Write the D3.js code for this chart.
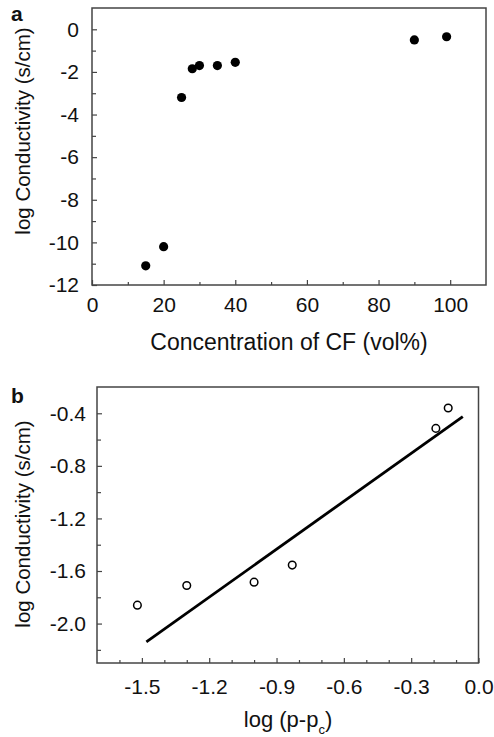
<!DOCTYPE html>
<html>
<head>
<meta charset="utf-8">
<script src="https://cdn.jsdelivr.net/npm/d3@7"></script>
<style>
  body { margin: 0; background: #fff; }
  svg text { font-family: "Liberation Sans", Arial, sans-serif; fill: #111; }
  svg .tick text { font-size: 21px !important; }
</style>
</head>
<body>
<svg id="screen" width="494" height="737"></svg>
<script>
// Panel a data: concentration of CF vs log conductivity
var concA = [15, 20, 25, 28, 30, 35, 40, 90, 99];
var logCondA = [-11.1, -10.2, -3.2, -1.85, -1.7, -1.7, -1.55, -0.5, -0.35];
var xTicksA = [0, 20, 40, 60, 80, 100];
var xMinorA = [10, 30, 50, 70, 90];
var yTicksA = [0, -2, -4, -6, -8, -10, -12];
var yMinorA = [-1, -3, -5, -7, -9, -11];

// Panel b data: log(p-pc) vs log conductivity, plus fitted line
var logPB = [-1.52, -1.3, -1.0, -0.83, -0.19, -0.135];
var logCondB = [-1.86, -1.71, -1.685, -1.555, -0.515, -0.36];
var fitX = [-1.48, -0.07];
var fitY = [-2.14, -0.425];
var xTicksB = [-1.5, -1.2, -0.9, -0.6, -0.3, 0.0];
var xMinorB = [-1.6, -1.4, -1.3, -1.1, -1.0, -0.8, -0.7, -0.5, -0.4, -0.2, -0.1];
var yTicksB = [-0.4, -0.8, -1.2, -1.6, -2.0];
var yMinorB = [-0.6, -1.0, -1.4, -1.8, -2.2];

var svg = d3.select("#screen");
var frameColor = "#444";

// plain hyphen instead of unicode minus
function fmt(p) {
    var f = d3.format(p);
    return function(d){ return f(d).replace("\u2212", "-"); };
}

function panel(o) {
    var g = svg.append("g");
    var x = d3.scaleLinear().domain(o.xDomain).range([o.left, o.right]);
    var y = d3.scaleLinear().domain(o.yDomain).range([o.bottom, o.top]);

    // minor ticks
    g.append("g").attr("transform", "translate(0," + o.bottom + ")")
        .call(d3.axisBottom(x).tickValues(o.xMinor).tickSize(-3).tickFormat(""))
        .call(function(a){ a.select(".domain").remove(); });
    g.append("g").attr("transform", "translate(" + o.left + ",0)")
        .call(d3.axisLeft(y).tickValues(o.yMinor).tickSize(-4).tickFormat(""))
        .call(function(a){ a.select(".domain").remove(); });

    // major ticks with labels
    var xa = g.append("g").attr("transform", "translate(0," + o.bottom + ")")
        .call(d3.axisBottom(x).tickValues(o.xTicks).tickSize(-5).tickPadding(o.xPad).tickFormat(o.xFmt));
    var ya = g.append("g").attr("transform", "translate(" + o.left + ",0)")
        .call(d3.axisLeft(y).tickValues(o.yTicks).tickSize(-5).tickPadding(o.yPad).tickFormat(o.yFmt));
    [xa, ya].forEach(function(a){
        a.select(".domain").remove();
        a.attr("font-size", 21).attr("font-family", null);
        a.selectAll("text").attr("fill", "#111");
    });
    g.selectAll(".tick line").attr("stroke", frameColor).attr("stroke-width", 1.2);

    // frame
    g.append("rect")
        .attr("x", o.left).attr("y", o.top)
        .attr("width", o.right - o.left).attr("height", o.bottom - o.top)
        .attr("fill", "none").attr("stroke", frameColor).attr("stroke-width", 1.5);

    // panel letter
    g.append("text").attr("x", 11).attr("y", o.letterY)
        .style("font-size", "21px").style("font-weight", "bold").text(o.letter);

    // y title
    g.append("text")
        .attr("transform", "translate(30," + o.yTitleC + ") rotate(-90)")
        .attr("text-anchor", "middle").style("font-size", "20.5px")
        .text("log Conductivity (s/cm)");

    return {g: g, x: x, y: y};
}

// ---- Panel a
var pa = panel({
    left: 92, right: 486, top: 8, bottom: 285,
    xDomain: [0, 110], yDomain: [-12, 1],
    xTicks: xTicksA, xMinor: xMinorA, yTicks: yTicksA, yMinor: yMinorA,
    xPad: 12, yPad: 13,
    xFmt: fmt("d"), yFmt: fmt("d"),
    letter: "a", letterY: 21, yTitleC: 131
});
pa.g.append("text").attr("x", 289).attr("y", 350).attr("text-anchor", "middle")
    .style("font-size", "23px").text("Concentration of CF (vol%)");
pa.g.selectAll("circle.pt").data(concA).enter().append("circle")
    .attr("class", "pt")
    .attr("cx", function(d){ return pa.x(d); })
    .attr("cy", function(d, i){ return pa.y(logCondA[i]); })
    .attr("r", 4.6).attr("fill", "#000");

// ---- Panel b
var pb = panel({
    left: 97, right: 478.5, top: 387, bottom: 663,
    xDomain: [-1.7, 0], yDomain: [-2.3, -0.2],
    xTicks: xTicksB, xMinor: xMinorB, yTicks: yTicksB, yMinor: yMinorB,
    xPad: 16, yPad: 11,
    xFmt: fmt(".1f"), yFmt: fmt(".1f"),
    letter: "b", letterY: 403, yTitleC: 524
});
var tb = pb.g.append("text").attr("x", 288).attr("y", 727).attr("text-anchor", "middle")
    .style("font-size", "22px");
tb.append("tspan").text("log (p-p");
tb.append("tspan").attr("dy", 7).style("font-size", "13px").text("c");
tb.append("tspan").attr("dy", -7).text(")");

pb.g.append("path")
    .datum(fitX.map(function(d, i){ return [d, fitY[i]]; }))
    .attr("d", d3.line().x(function(d){ return pb.x(d[0]); }).y(function(d){ return pb.y(d[1]); }))
    .attr("stroke", "#000").attr("stroke-width", 2.8).attr("fill", "none");

pb.g.selectAll("circle.pt").data(logPB).enter().append("circle")
    .attr("class", "pt")
    .attr("cx", function(d){ return pb.x(d); })
    .attr("cy", function(d, i){ return pb.y(logCondB[i]); })
    .attr("r", 3.8).attr("fill", "none").attr("stroke", "#000").attr("stroke-width", 1.5);
</script>
</body>
</html>
